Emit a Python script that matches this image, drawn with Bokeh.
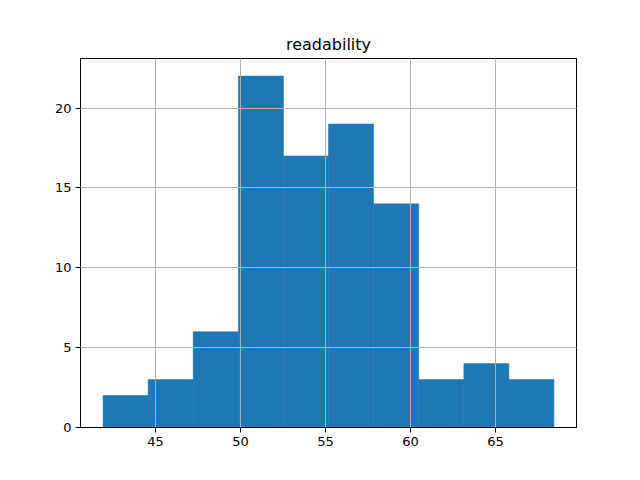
from bokeh.plotting import figure
from bokeh.embed import file_html
from bokeh.resources import INLINE
from bokeh.models import Range1d, FixedTicker

edges = [41.92, 44.57, 47.22, 49.88, 52.53, 55.18, 57.83, 60.49, 63.14, 65.79, 68.44]
counts = [2, 3, 6, 22, 17, 19, 14, 3, 4, 3]
xticks = [45, 50, 55, 60, 65]
yticks = [0, 5, 10, 15, 20]

span = edges[-1] - edges[0]
p = figure(width=640, height=480, output_backend="svg", toolbar_location=None,
           x_range=Range1d(edges[0] - 0.05 * span, edges[-1] + 0.05 * span),
           y_range=Range1d(0, max(counts) * 1.05),
           min_border_left=80, min_border_right=64, min_border_top=58, min_border_bottom=53,
           title="readability")
p.quad(left=edges[:-1], right=edges[1:], bottom=0, top=counts,
       fill_color="#1f77b4", line_color="#1f77b4", line_width=0.5)

p.title.align = "center"
p.title.text_font = "DejaVu Sans"
p.title.text_font_size = "16px"
p.title.text_font_style = "normal"
p.title.text_color = "black"
p.title.offset = 0

p.xaxis.ticker = FixedTicker(ticks=xticks)
p.yaxis.ticker = FixedTicker(ticks=yticks)
for ax in (p.xaxis, p.yaxis):
    ax.major_label_text_font = "DejaVu Sans"
    ax.major_label_text_font_size = "13px"
    ax.major_label_text_color = "black"
    ax.axis_line_color = "black"
    ax.major_tick_line_color = "black"
    ax.major_tick_out = 5
    ax.major_tick_in = 0
    ax.minor_tick_line_color = None
    ax.major_label_standoff = 4

p.grid.level = "overlay"
p.grid.grid_line_color = "#b0b0b0"
p.grid.grid_line_width = 1
p.outline_line_color = "black"
p.outline_line_width = 1
p.background_fill_color = "white"
p.border_fill_color = "white"

open("out.html", "w").write(file_html(p, INLINE))
